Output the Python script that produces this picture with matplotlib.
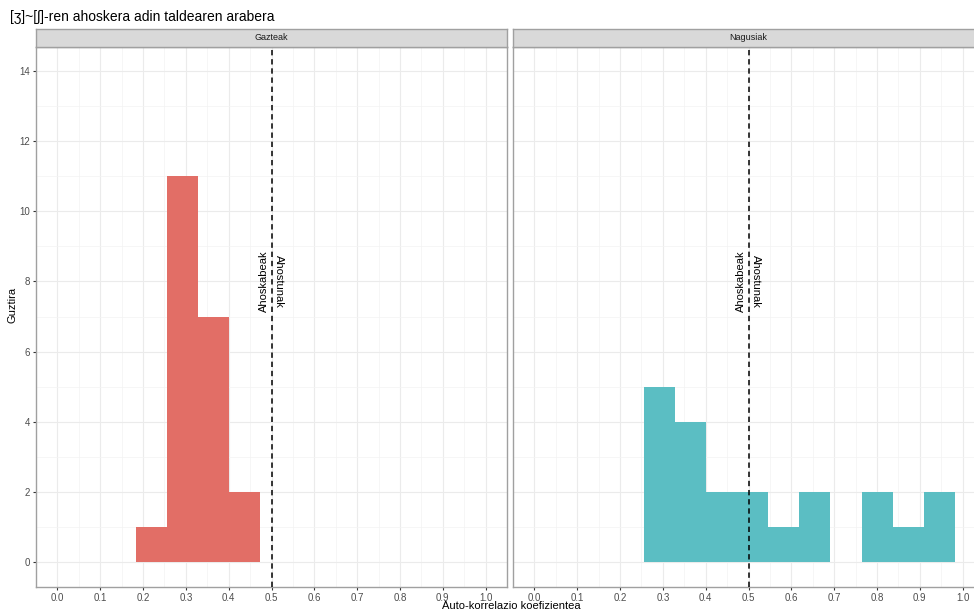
import matplotlib.pyplot as plt
from matplotlib.ticker import MultipleLocator

plt.rcParams['font.family'] = ['Liberation Sans', 'DejaVu Sans']

# Histogram data (shared bins across both facets)
bin_edges = [0.184, 0.2565, 0.329, 0.4015, 0.474, 0.5465, 0.619,
             0.6915, 0.764, 0.8365, 0.909, 0.9815]
panels = ['Gazteak', 'Nagusiak']
counts_gazteak = [1, 11, 7, 2, 0, 0, 0, 0, 0, 0, 0]
counts_nagusiak = [0, 5, 4, 2, 2, 1, 2, 0, 2, 1, 2]
colors = ['#E26E66', '#5BBEC3']
threshold = 0.5
xticks = [0.0, 0.1, 0.2, 0.3, 0.4, 0.5, 0.6, 0.7, 0.8, 0.9, 1.0]
yticks = [0, 2, 4, 6, 8, 10, 12, 14]

fig = plt.figure(figsize=(9.74, 6.14), dpi=100)
W, H = 974, 614

def px(x0, y0, x1, y1):
    # pixel box (top-left origin) -> figure fraction rect
    return [x0 / W, (H - y1) / H, (x1 - x0) / W, (y1 - y0) / H]

panel_boxes = [(36, 46.5, 507, 586.5), (513, 46.5, 984, 586.5)]
all_counts = [counts_gazteak, counts_nagusiak]
widths = [b - a for a, b in zip(bin_edges[:-1], bin_edges[1:])]

for i, (name, counts, box) in enumerate(zip(panels, all_counts, panel_boxes)):
    ax = fig.add_axes(px(*box))
    ax.bar(bin_edges[:-1], counts, width=widths, align='edge',
           color=colors[i], linewidth=0, zorder=2)
    ax.axvline(threshold, color='black', linewidth=1.1,
               linestyle=(0, (3.5, 2.5)), zorder=3)
    ax.text(threshold - 0.018, 8, 'Ahoskabeak', rotation=90,
            ha='center', va='center', fontsize=8, zorder=4)
    ax.text(threshold + 0.018, 8, 'Ahostunak', rotation=270,
            ha='center', va='center', fontsize=8, zorder=4)
    ax.set_xlim(-0.05, 1.05)
    ax.set_ylim(-0.7, 14.7)
    ax.set_xticks(xticks)
    ax.set_xticklabels(['%.1f' % t for t in xticks])
    ax.set_yticks(yticks)
    ax.xaxis.set_minor_locator(MultipleLocator(0.05))
    ax.yaxis.set_minor_locator(MultipleLocator(1))
    ax.grid(True, which='major', color='#EBEBEB', linewidth=0.8, zorder=0)
    ax.grid(True, which='minor', color='#F3F3F3', linewidth=0.5, zorder=0)
    ax.set_axisbelow(True)
    ax.tick_params(which='major', length=2.5, width=0.8, color='#333333',
                   labelsize=7, labelcolor='#4D4D4D', pad=2)
    ax.tick_params(which='minor', length=0)
    if i > 0:
        ax.tick_params(axis='y', which='major', length=0, labelleft=False)
    for s in ax.spines.values():
        s.set_color('#A0A0A0')
        s.set_linewidth(1.0)
    # strip
    sx0, _, sx1, _ = box
    sax = fig.add_axes(px(sx0, 29, sx1, 46.5))
    sax.set_facecolor('#D9D9D9')
    sax.set_xticks([])
    sax.set_yticks([])
    for s in sax.spines.values():
        s.set_color('#A0A0A0')
        s.set_linewidth(1.0)
    sax.text(0.5, 0.5, name, transform=sax.transAxes, ha='center',
             va='center', fontsize=6.5, color='#1A1A1A')

fig.text(10 / W, 1 - 17 / H, '[ʒ]~[ʃ]-ren ahoskera adin taldearen arabera',
         ha='left', va='center', fontsize=10)
fig.text(12 / W, 1 - 305 / H, 'Guztira', rotation=90, ha='center',
         va='center', fontsize=8)
fig.text(511 / W, 1 - 606 / H, 'Auto-korrelazio koefizientea',
         ha='center', va='center', fontsize=8)

fig.savefig('out.png', dpi=100)
